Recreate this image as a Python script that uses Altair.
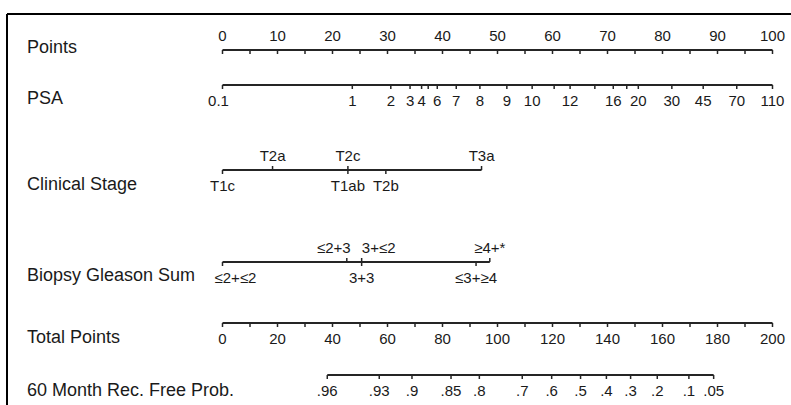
import altair as alt
import pandas as pd

# ---------------- data ----------------
row_names = ["Points", "PSA", "Clinical Stage", "Biopsy Gleason Sum",
             "Total Points", "60 Month Rec. Free Prob."]

points_major = list(range(0, 101, 10))
points_minor = list(range(5, 100, 10))

psa_labels = ["0.1", "1", "2", "3", "4", "6", "7", "8", "9", "10", "12",
              "16", "20", "30", "45", "70", "110"]
psa_points = [0, 23.6, 30.6, 34.1, 36.2, 39.05, 42.5, 46.8, 51.7, 56.3, 63.2,
              71.05, 75.6, 81.7, 87.4, 93.5, 100]
psa_minor_points = [37.4, 60.3, 67.7, 73.5]

stage_labels = ["T1c", "T2a", "T2c", "T1ab", "T2b", "T3a"]
stage_points = [0, 9.1, 22.8, 22.8, 29.7, 47.1]
stage_side = ["below", "above", "above", "below", "below", "above"]

gleason_labels = ["≤2+≤2", "≤2+3", "3+3", "3+≤2", "≤3+≥4", "≥4+*"]
gleason_points = [0, 22.6, 25.3, 25.3, 46.1, 48.6]
gleason_side = ["below", "above", "below", "above", "below", "above"]

total_major = list(range(0, 201, 20))
total_minor = list(range(10, 200, 20))

prob_labels = [".96", ".93", ".9", ".85", ".8", ".7", ".6", ".5", ".4", ".3",
               ".2", ".1", ".05"]
prob_total = [38.1, 57.0, 68.9, 83.1, 93.4, 109.0, 119.7, 130.2, 139.6, 148.4,
              158.1, 169.6, 178.6]

# ---------------- layout ----------------
W, H = 791, 405
PX_ZERO, PX_PER_POINT = 222.5, 5.5
XMIN = -PX_ZERO / PX_PER_POINT
XMAX = (W - PX_ZERO) / PX_PER_POINT
LINE_Y = {"Points": 50, "PSA": 85, "Clinical Stage": 170,
          "Biopsy Gleason Sum": 262, "Total Points": 323,
          "60 Month Rec. Free Prob.": 375}
NAME_Y = {"Points": 48, "PSA": 99, "Clinical Stage": 185,
          "Biopsy Gleason Sum": 276, "Total Points": 338,
          "60 Month Rec. Free Prob.": 391}
ABOVE, BELOW = -14, 16
TICK = 4
LABEL_NUDGE_PX = {"≤2+≤2": 13, "≤2+3": -13, "3+≤2": 17, "0.1": -4}
LINE_COLOR = "#252525"
TEXT_COLOR = "#1a1a1a"
FONT = "Liberation Sans"

lines, ticks, labels = [], [], []


def add_axis(row, pos, labs, sides, extra_ticks=(), tick_dir=None):
    y = LINE_Y[row]
    allp = list(pos) + list(extra_ticks)
    lines.append({"p0": min(allp), "p1": max(allp), "y": y})
    for p, lab, s in zip(pos, labs, sides):
        if tick_dir is None:
            d = -TICK if s == "above" else TICK
        else:
            d = tick_dir * TICK
        ticks.append({"p": p, "y": y, "y2": y + d})
        ly = y + (ABOVE if s == "above" else BELOW)
        labels.append({"p": p + LABEL_NUDGE_PX.get(lab, 0) / PX_PER_POINT,
                       "y": ly, "label": lab})
    for p in extra_ticks:
        ticks.append({"p": p, "y": y, "y2": y + TICK})


add_axis("Points", points_major, [str(v) for v in points_major],
         ["above"] * len(points_major), points_minor, tick_dir=1)
add_axis("PSA", psa_points, psa_labels, ["below"] * len(psa_points), psa_minor_points)
add_axis("Clinical Stage", stage_points, stage_labels, stage_side)
add_axis("Biopsy Gleason Sum", gleason_points, gleason_labels, gleason_side)
add_axis("Total Points", [v / 2 for v in total_major], [str(v) for v in total_major],
         ["below"] * len(total_major), [v / 2 for v in total_minor])
add_axis("60 Month Rec. Free Prob.", [v / 2 for v in prob_total], prob_labels,
         ["below"] * len(prob_total))

lines_df = pd.DataFrame(lines)
ticks_df = pd.DataFrame(ticks)
labels_df = pd.DataFrame(labels)
names_df = pd.DataFrame({"name": row_names, "y": [NAME_Y[r] for r in row_names]})

xs = alt.Scale(domain=[XMIN, XMAX], nice=False, zero=False)

line_layer = alt.Chart(lines_df).mark_rule(color=LINE_COLOR, strokeWidth=2).encode(
    x=alt.X("p0:Q", scale=xs, axis=None),
    x2="p1:Q",
    y=alt.Y("y:Q", scale=None, axis=None),
)
tick_layer = alt.Chart(ticks_df).mark_rule(color=LINE_COLOR, strokeWidth=1.5).encode(
    x=alt.X("p:Q", scale=xs, axis=None),
    y=alt.Y("y:Q", scale=None, axis=None),
    y2="y2:Q",
)
label_layer = alt.Chart(labels_df).mark_text(
    font=FONT, fontSize=15, color=TEXT_COLOR, baseline="middle", align="center"
).encode(
    x=alt.X("p:Q", scale=xs, axis=None),
    y=alt.Y("y:Q", scale=None, axis=None),
    text="label:N",
)
name_layer = alt.Chart(names_df).mark_text(
    font=FONT, fontSize=18, color=TEXT_COLOR, baseline="middle", align="left"
).encode(
    x=alt.value(27),
    y=alt.Y("y:Q", scale=None, axis=None),
    text="name:N",
)
frame_top = alt.Chart(names_df).mark_rule(color="#000", strokeWidth=2).encode(
    x=alt.value(7), x2=alt.value(W), y=alt.value(14)
)
frame_left = alt.Chart(names_df).mark_rule(color="#000", strokeWidth=2).encode(
    x=alt.value(7), y=alt.value(14), y2=alt.value(H)
)

chart = alt.layer(
    frame_top, frame_left, line_layer, tick_layer, label_layer, name_layer
).properties(
    width=W, height=H, autosize=alt.AutoSizeParams(type="none"), padding=0,
    background="white",
).configure_view(stroke=None)

chart.save("out.html", embed_options={"renderer": "svg", "actions": False})
